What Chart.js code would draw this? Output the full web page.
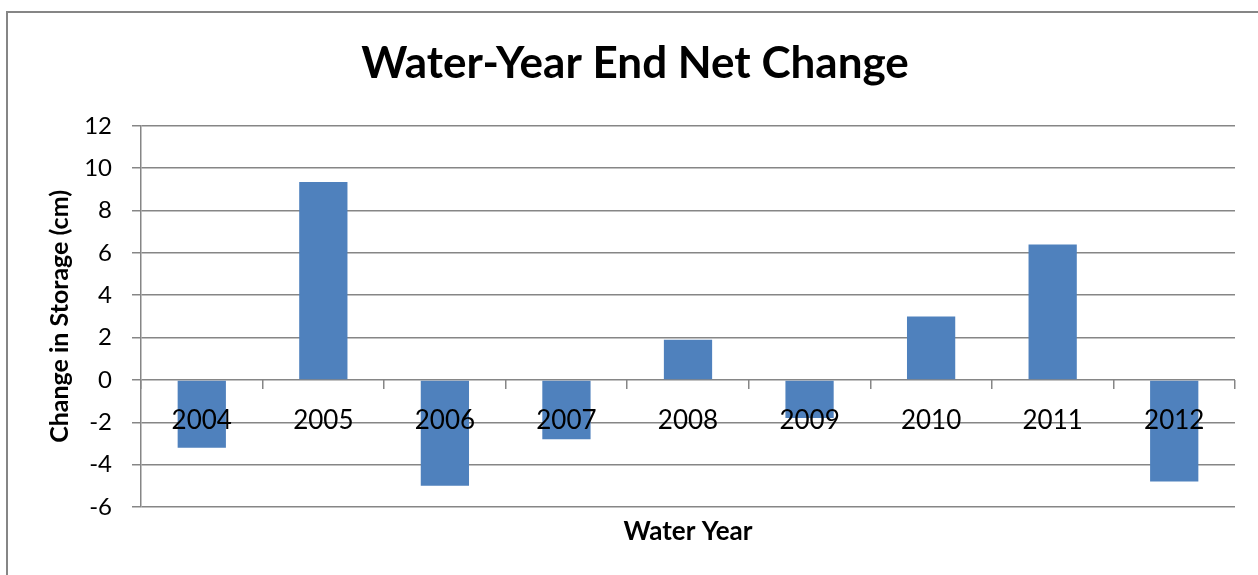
<!DOCTYPE html>
<html>
<head>
<meta charset="utf-8">
<title>Water-Year End Net Change</title>
<script src="https://cdn.jsdelivr.net/npm/chart.js@4.4.0/dist/chart.umd.min.js"></script>
<style>
  html, body { margin: 0; padding: 0; background: #fff; }
  #chart-bars { display: block; }
</style>
</head>
<body>
<canvas id="chart-bars" width="1258" height="575"></canvas>
<script>
var years = ['2004', '2005', '2006', '2007', '2008', '2009', '2010', '2011', '2012'];
var storageChange = [-3.2, 9.35, -5.0, -2.8, 1.9, -1.8, 3.0, 6.4, -4.8];
var yTicks = [-6, -4, -2, 0, 2, 4, 6, 8, 10, 12];

var gray = '#868686';
var fontFamily = 'Lato, "Open Sans", sans-serif';

// outer frame (only top and left edges show in the picture)
var framePlugin = {
    id: 'frame',
    beforeDraw: function (chart) {
        var ctx = chart.ctx;
        ctx.save();
        ctx.strokeStyle = gray;
        ctx.lineWidth = 2;
        ctx.beginPath();
        ctx.moveTo(7, 575);
        ctx.lineTo(7, 12);
        ctx.lineTo(1258, 12);
        ctx.stroke();
        ctx.restore();
    }
};

var chartdata = {
    labels: years,
    datasets: [
        {
            label: 'Change in Storage (cm)',
            backgroundColor: '#4F81BD',
            borderWidth: 0,
            data: storageChange,
            xAxisID: 'x',
            yAxisID: 'y',
            barPercentage: 0.397,
            categoryPercentage: 1
        }
    ]
};

var ctx = document.getElementById('chart-bars');

var barGraph = new Chart(ctx, {
    type: 'bar',
    data: chartdata,
    plugins: [framePlugin],
    options: {
        responsive: false,
        animation: false,
        layout: { padding: { left: 12, right: 0, top: 0, bottom: 0 } },
        plugins: {
            legend: { display: false },
            tooltip: { enabled: false },
            title: {
                display: true,
                text: 'Water-Year End Net Change',
                color: '#000',
                font: { family: fontFamily, size: 44, weight: 'bold' },
                padding: { top: 37, bottom: 36 }
            }
        },
        scales: {
            x: {
                type: 'category',
                position: { y: 0 },
                offset: true,
                grid: {
                    display: true,
                    offset: true,
                    drawOnChartArea: false,
                    drawTicks: true,
                    tickLength: 9,
                    color: gray,
                    lineWidth: 1.5
                },
                border: { display: false },
                ticks: {
                    z: 1,   // year labels sit on top of the bars
                    color: '#000',
                    font: { family: fontFamily, size: 26 },
                    padding: 16,
                    maxRotation: 0,
                    autoSkip: false
                }
            },
            x2: {
                type: 'category',
                position: 'bottom',
                labels: years,
                grid: { display: false },
                border: { display: false },
                ticks: { display: false },
                title: {
                    display: true,
                    text: 'Water Year',
                    color: '#000',
                    font: { family: fontFamily, size: 26, weight: 'bold' },
                    padding: { top: 0, bottom: 28 }
                },
                afterFit: function (scale) { scale.height = 68; }
            },
            y: {
                min: -6,
                max: 12,
                afterBuildTicks: function (scale) {
                    scale.ticks = yTicks.map(function (v) { return { value: v }; });
                },
                grid: {
                    color: gray,
                    lineWidth: 1.5,
                    drawTicks: true,
                    tickLength: 9
                },
                border: { display: true, color: gray, width: 1.5 },
                ticks: {
                    color: '#000',
                    font: { family: fontFamily, size: 24 },
                    padding: 20
                },
                title: {
                    display: true,
                    text: 'Change in Storage (cm)',
                    color: '#000',
                    font: { family: fontFamily, size: 25, weight: 'bold' },
                    padding: { top: 33, bottom: 0 }
                },
                afterFit: function (scale) { scale.width = 129; }
            },
            // empty right strip so the title centres like the original
            yRight: {
                position: 'right',
                min: -6,
                max: 12,
                grid: { display: false },
                border: { display: false },
                ticks: { display: false },
                afterFit: function (scale) { scale.width = 23; }
            }
        }
    }
});
</script>
</body>
</html>
